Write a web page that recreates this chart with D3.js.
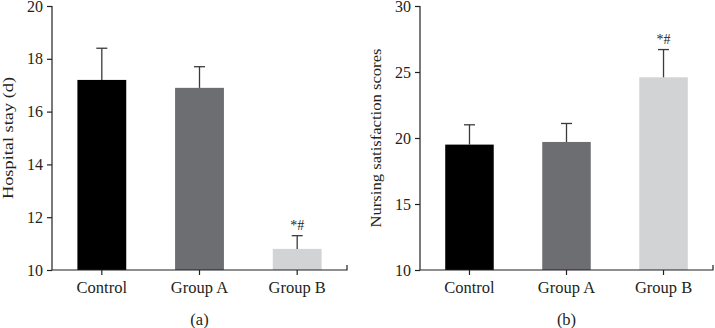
<!DOCTYPE html>
<html>
<head>
<meta charset="utf-8">
<script src="https://cdn.jsdelivr.net/npm/d3@7"></script>
<style>
  body { margin: 0; background: #fff; }
  svg text { font-family: "Liberation Serif", "DejaVu Serif", serif; fill: #231f20; }
</style>
</head>
<body>
<div id="chart"></div>
<script>
const groups = ['Control', 'Group A', 'Group B'];
const barColors = ['#000000', '#6d6e71', '#d1d3d4'];

// panel (a): hospital stay
const stayMean = [17.2, 16.9, 10.8];
const stayErr = [1.2, 0.8, 0.5];
const stayTicks = [10, 12, 14, 16, 18, 20];

// panel (b): nursing satisfaction
const nursingMean = [19.5, 19.7, 24.6];
const nursingErr = [1.5, 1.4, 2.1];
const nursingTicks = [10, 15, 20, 25, 30];

const marks = ['', '', '*#'];

const width = 715;
const height = 328;

const svg = d3.select('#chart')
    .append('svg')
    .attr('width', width)
    .attr('height', height);

/**
 * Draws one bar panel with upward error bars
 */
function panel (opts) {
    const { left, right, top, bottom, domain, ticks, means, errs, yLabel, labelX, labelLen, caption } = opts;
    const g = svg.append('g');

    const x = d3.scaleBand()
        .domain(groups)
        .range([left, right])
        .paddingInner(0.5)
        .paddingOuter(0.26);
    const y = d3.scaleLinear()
        .domain(domain)
        .range([bottom, top]);

    const data = groups.map((name, i) => ({ name, mean: means[i], err: errs[i], color: barColors[i], mark: marks[i] }));

    // bars
    g.selectAll('rect.bar')
        .data(data)
        .join('rect')
        .attr('class', 'bar')
        .attr('x', d => x(d.name))
        .attr('width', x.bandwidth())
        .attr('y', d => y(d.mean))
        .attr('height', d => y(domain[0]) - y(d.mean))
        .attr('fill', d => d.color);

    // error bars (upper only)
    const capW = 11;
    const eb = g.selectAll('g.err')
        .data(data)
        .join('g')
        .attr('class', 'err')
        .attr('stroke', '#3a3a3a')
        .attr('stroke-width', 1.3);
    eb.append('line')
        .attr('x1', d => x(d.name) + x.bandwidth() / 2)
        .attr('x2', d => x(d.name) + x.bandwidth() / 2)
        .attr('y1', d => y(d.mean))
        .attr('y2', d => y(d.mean + d.err));
    eb.append('line')
        .attr('x1', d => x(d.name) + x.bandwidth() / 2 - capW / 2)
        .attr('x2', d => x(d.name) + x.bandwidth() / 2 + capW / 2)
        .attr('y1', d => y(d.mean + d.err))
        .attr('y2', d => y(d.mean + d.err));

    // significance marks
    g.selectAll('text.mark')
        .data(data.filter(d => d.mark))
        .join('text')
        .attr('class', 'mark')
        .attr('x', d => x(d.name) + x.bandwidth() / 2)
        .attr('y', d => y(d.mean + d.err) - 6)
        .attr('text-anchor', 'middle')
        .attr('font-size', 14)
        .text(d => d.mark);

    // y axis
    const yAxis = g.append('g')
        .attr('transform', `translate(${left},0)`)
        .call(d3.axisLeft(y).tickValues(ticks).tickSize(5).tickPadding(4).tickFormat(d3.format('d')));
    yAxis.selectAll('text').attr('font-size', 16).style('font-family', '"Liberation Serif", serif');
    yAxis.selectAll('line, path').attr('stroke', '#231f20').attr('stroke-width', 1.2);
    yAxis.select('path').attr('d', `M0,${top}V${bottom}`);

    // x axis
    const xAxis = g.append('g')
        .attr('transform', `translate(0,${bottom})`)
        .call(d3.axisBottom(x).tickSize(5).tickPadding(6));
    xAxis.selectAll('text').attr('font-size', 16.5).style('font-family', '"Liberation Serif", serif');
    xAxis.selectAll('line, path').attr('stroke', '#231f20').attr('stroke-width', 1.2);
    xAxis.select('path').attr('d', `M${left},0H${right}V-5`);

    // axis title
    g.append('text')
        .attr('transform', `translate(${labelX},${(top + bottom) / 2}) rotate(-90)`)
        .attr('text-anchor', 'middle')
        .attr('font-size', 15)
        .attr('textLength', labelLen)
        .attr('lengthAdjust', 'spacingAndGlyphs')
        .text(yLabel);

    // caption
    g.append('text')
        .attr('x', (left + right) / 2)
        .attr('y', 325)
        .attr('text-anchor', 'middle')
        .attr('font-size', 16.5)
        .text(caption);
}

panel({
    left: 52, right: 347, top: 6, bottom: 270,
    domain: [10, 20], ticks: stayTicks,
    means: stayMean, errs: stayErr,
    yLabel: 'Hospital stay (d)', labelX: 13, labelLen: 122, caption: '(a)'
});

panel({
    left: 420, right: 713, top: 6, bottom: 270,
    domain: [10, 30], ticks: nursingTicks,
    means: nursingMean, errs: nursingErr,
    yLabel: 'Nursing satisfaction scores', labelX: 381, labelLen: 179, caption: '(b)'
});
</script>
</body>
</html>
